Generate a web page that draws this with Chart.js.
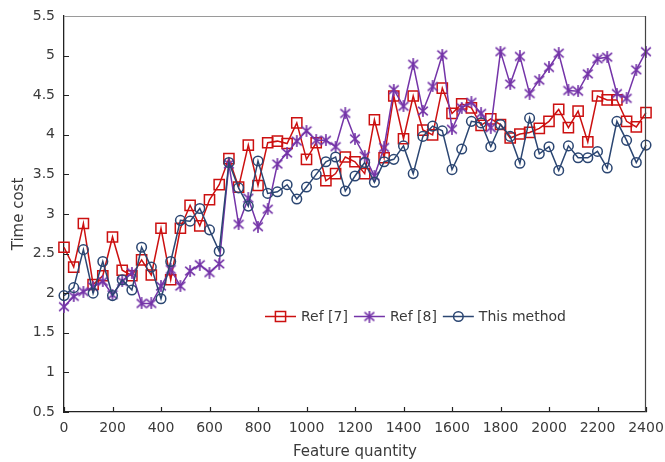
<!DOCTYPE html>
<html>
<head>
<meta charset="utf-8">
<title>Time cost vs feature quantity</title>
<script src="https://cdn.jsdelivr.net/npm/chart.js@4.4.1/dist/chart.umd.min.js"></script>
<style>
  html, body { margin: 0; padding: 0; background: #ffffff; }
  #wrap { width: 665px; height: 462px; }
</style>
</head>
<body>
<div id="wrap"><canvas id="chart" width="665" height="462"></canvas></div>
<script>
// ---- data ----
const featureQuantity = [
  0, 40, 80, 120, 160, 200, 240, 280, 320, 360, 400, 440, 480, 520, 560, 600,
  640, 680, 720, 760, 800, 840, 880, 920, 960, 1000, 1040, 1080, 1120, 1160, 1200,
  1240, 1280, 1320, 1360, 1400, 1440, 1480, 1520, 1560, 1600, 1640, 1680, 1720, 1760,
  1800, 1840, 1880, 1920, 1960, 2000, 2040, 2080, 2120, 2160, 2200, 2240, 2280, 2320,
  2360, 2400
];

const ref7 = [
  2.58, 2.33, 2.88, 2.11, 2.22, 2.71, 2.29, 2.22, 2.42, 2.23, 2.82, 2.17, 2.82,
  3.11, 2.85, 3.18, 3.37, 3.70, 3.34, 3.87, 3.36, 3.90, 3.92, 3.89, 4.15,
  3.69, 3.90, 3.42, 3.51, 3.72, 3.66, 3.51, 4.19, 3.71, 4.49, 3.95, 4.49, 4.06,
  4.00, 4.59, 4.27, 4.39, 4.34, 4.12, 4.20, 4.13, 3.96, 4.01, 4.03, 4.08,
  4.17, 4.32, 4.09, 4.30, 3.91, 4.49, 4.44, 4.44, 4.17, 4.10, 4.28
];

const ref8 = [
  1.83, 1.96, 2.02, 2.08, 2.15, 1.98, 2.15, 2.26, 1.87, 1.87, 2.09, 2.30, 2.09,
  2.28, 2.36, 2.26, 2.37, 3.63, 2.87, 3.20, 2.84, 3.06, 3.63, 3.77, 3.92, 4.05,
  3.93, 3.93, 3.85, 4.27, 3.95, 3.73, 3.48, 3.84, 4.57, 4.36, 4.89, 4.30,
  4.61, 5.01, 4.07, 4.34, 4.41, 4.27, 4.09, 5.05, 4.64, 4.99, 4.52, 4.69,
  4.85, 5.03, 4.56, 4.55, 4.77, 4.96, 4.98, 4.52, 4.46, 4.82, 5.05
];

const thisMethod = [
  1.97, 2.07, 2.55, 2.00, 2.40, 1.97, 2.17, 2.04, 2.58, 2.33, 1.93, 2.40, 2.92,
  2.91, 3.07, 2.80, 2.53, 3.65, 3.33, 3.10, 3.67, 3.26, 3.28, 3.37, 3.19, 3.34,
  3.50, 3.66, 3.72, 3.29, 3.48, 3.65, 3.40, 3.66, 3.69, 3.86, 3.51, 3.98,
  4.11, 4.05, 3.56, 3.82, 4.17, 4.15, 3.85, 4.13, 3.98, 3.64, 4.21, 3.76,
  3.85, 3.55, 3.86, 3.71, 3.71, 3.79, 3.58, 4.17, 3.93, 3.65, 3.87
];

const seriesNames = ['Ref [7]', 'Ref [8]', 'This method'];

const xTickValues = [0, 200, 400, 600, 800, 1000, 1200, 1400, 1600, 1800, 2000, 2200, 2400];
const xTickLabels = ['0', '200', '400', '600', '800', '1000', '1200', '1400', '1600', '1800', '2000', '2200', '2400'];
const yTickValues = [0.5, 1, 1.5, 2, 2.5, 3, 3.5, 4, 4.5, 5, 5.5];
const yTickLabels = ['0.5', '1', '1.5', '2', '2.5', '3', '3.5', '4', '4.5', '5', '5.5'];

// ---- styling ----
const FONT = 'DejaVu Sans';
const TEXT = '#3a3a3a';
const RED = '#cc1010';
const PURPLE = '#7434a8';
const NAVY = '#2b4672';

// six-armed asterisk marker (X with a vertical bar)
function makeStar(color) {
  const c = document.createElement('canvas');
  c.width = 12; c.height = 12;
  const g = c.getContext('2d');
  g.strokeStyle = color;
  g.lineWidth = 1.7;
  g.lineCap = 'round';
  g.beginPath();
  g.moveTo(6, 0.8); g.lineTo(6, 11.2);
  g.moveTo(1.6, 2.2); g.lineTo(10.4, 9.8);
  g.moveTo(10.4, 2.2); g.lineTo(1.6, 9.8);
  g.stroke();
  return c;
}
const starMarker = makeStar(PURPLE);

const toPoints = (ys) => ys.map((y, i) => ({ x: featureQuantity[i], y }));

// legend drawn inside the plot, one row: line + marker + label
const inlineLegend = {
  id: 'inlineLegend',
  afterDraw(chart) {
    const ctx = chart.ctx;
    const y = 316.5;
    let x = 265;
    ctx.save();
    ctx.font = '14px "' + FONT + '"';
    ctx.textBaseline = 'middle';
    ctx.textAlign = 'left';
    chart.data.datasets.forEach((ds) => {
      const lineLen = 31;
      ctx.strokeStyle = ds.borderColor;
      ctx.lineWidth = ds.borderWidth;
      ctx.beginPath();
      ctx.moveTo(x, y);
      ctx.lineTo(x + lineLen, y);
      ctx.stroke();
      ctx.strokeStyle = ds.pointBorderColor;
      ctx.fillStyle = 'rgba(0,0,0,0)';
      Chart.helpers.drawPoint(ctx, {
        pointStyle: ds.pointStyle,
        radius: ds.pointRadius,
        rotation: 0,
        borderWidth: ds.pointBorderWidth
      }, x + lineLen / 2, y);
      ctx.fillStyle = TEXT;
      const tx = x + lineLen + 5;
      ctx.fillText(ds.label, tx, y + 0.5);
      x = tx + ctx.measureText(ds.label).width + 6;
    });
    ctx.restore();
  }
};

// inward tick marks and the top/right frame lines
const frameTicks = {
  id: 'frameTicks',
  afterDatasetsDraw(chart) {
    const { ctx, chartArea: a, scales } = chart;
    ctx.save();
    ctx.strokeStyle = '#222';
    ctx.lineWidth = 1.2;
    ctx.beginPath();
    yTickValues.forEach((v) => {
      const py = Math.round(scales.y.getPixelForValue(v)) + 0.5;
      ctx.moveTo(a.left, py);
      ctx.lineTo(a.left + 5, py);
    });
    xTickValues.forEach((v) => {
      const px = Math.round(scales.x.getPixelForValue(v)) + 0.5;
      ctx.moveTo(px, a.bottom);
      ctx.lineTo(px, a.bottom - 5);
    });
    ctx.stroke();
    ctx.lineWidth = 1.2;
    ctx.strokeStyle = '#9a9a9a';
    ctx.beginPath();
    ctx.moveTo(a.left, a.top + 0.5);
    ctx.lineTo(a.right, a.top + 0.5);
    ctx.stroke();
    ctx.strokeStyle = '#444';
    ctx.beginPath();
    ctx.moveTo(a.right - 0.5, a.top);
    ctx.lineTo(a.right - 0.5, a.bottom);
    ctx.stroke();
    ctx.restore();
  }
};

const lineDefaults = {
  borderWidth: 1.5,
  tension: 0,
  fill: false,
  pointBackgroundColor: 'rgba(0,0,0,0)',
  pointBorderWidth: 1.5,
  pointHoverRadius: 5,
  clip: false
};

new Chart(document.getElementById('chart'), {
  type: 'line',
  data: {
    datasets: [
      Object.assign({}, lineDefaults, {
        label: seriesNames[0],
        data: toPoints(ref7),
        borderColor: RED,
        pointBorderColor: RED,
        pointStyle: 'rect',
        pointRadius: 7.2,
        order: 3
      }),
      Object.assign({}, lineDefaults, {
        label: seriesNames[1],
        data: toPoints(ref8),
        borderColor: PURPLE,
        pointBorderColor: PURPLE,
        pointStyle: starMarker,
        pointRadius: 6,
        order: 2
      }),
      Object.assign({}, lineDefaults, {
        label: seriesNames[2],
        data: toPoints(thisMethod),
        borderColor: NAVY,
        pointBorderColor: NAVY,
        pointStyle: 'circle',
        pointRadius: 4.8,
        order: 1
      })
    ]
  },
  options: {
    responsive: false,
    animation: false,
    devicePixelRatio: 1,
    layout: { padding: { top: 16, right: 19, left: 0, bottom: 0 } },
    plugins: {
      legend: { display: false },
      tooltip: { enabled: false }
    },
    scales: {
      x: {
        type: 'linear',
        min: 0,
        max: 2400,
        afterBuildTicks: (s) => { s.ticks = xTickValues.map((v) => ({ value: v })); },
        afterFit: (s) => { s.height = 50; s.paddingLeft = 0; s.paddingRight = 0; },
        grid: { display: false, drawTicks: false },
        border: { display: true, color: '#222', width: 1.3 },
        ticks: {
          autoSkip: false,
          maxRotation: 0,
          padding: 8,
          color: TEXT,
          font: { family: FONT, size: 14 },
          callback: (v, i) => xTickLabels[i]
        },
        title: {
          display: true,
          text: 'Feature quantity',
          color: TEXT,
          font: { family: FONT, size: 15 },
          padding: { top: 0, bottom: 1 }
        }
      },
      y: {
        type: 'linear',
        min: 0.5,
        max: 5.5,
        afterBuildTicks: (s) => { s.ticks = yTickValues.map((v) => ({ value: v })); },
        afterFit: (s) => { s.width = 64; s.paddingTop = 0; s.paddingBottom = 0; },
        grid: { display: false, drawTicks: false },
        border: { display: true, color: '#222', width: 1.3 },
        ticks: {
          padding: 9,
          color: TEXT,
          font: { family: FONT, size: 14 },
          callback: (v, i) => yTickLabels[i]
        },
        title: {
          display: true,
          text: 'Time cost',
          color: TEXT,
          font: { family: FONT, size: 15 },
          padding: { top: 10, bottom: 0 }
        }
      }
    }
  },
  plugins: [frameTicks, inlineLegend]
});
</script>
</body>
</html>
